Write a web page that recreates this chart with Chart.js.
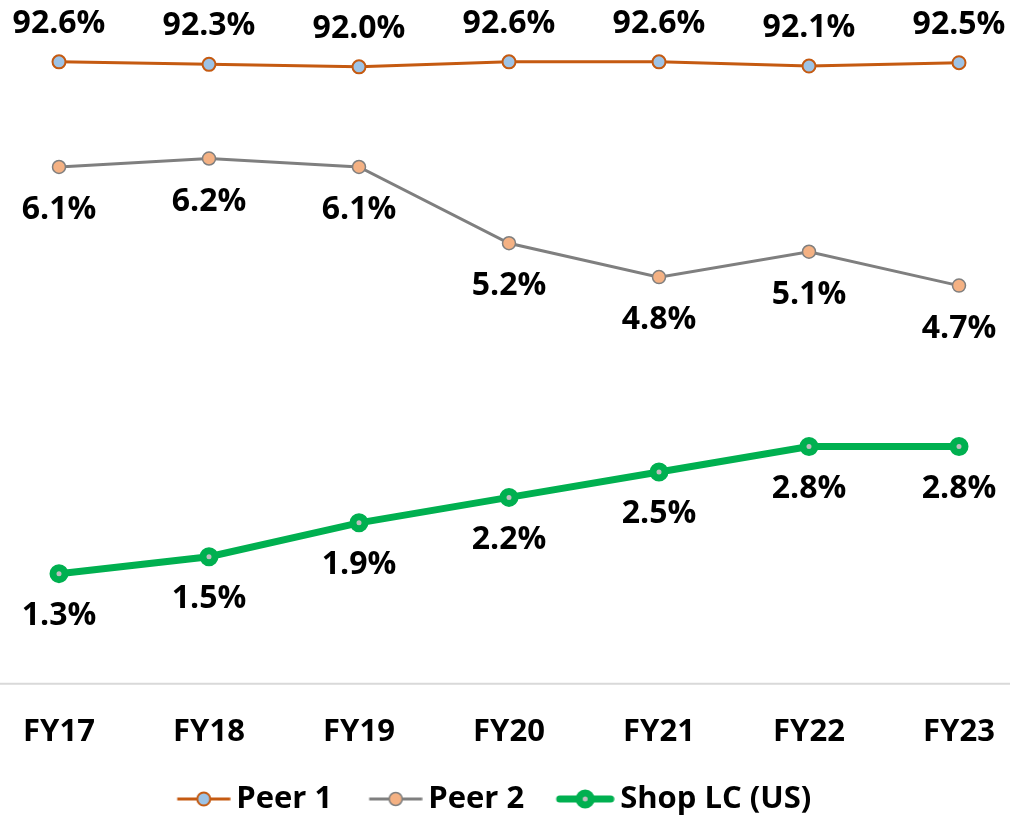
<!DOCTYPE html>
<html>
<head>
<meta charset="utf-8">
<script src="https://cdn.jsdelivr.net/npm/chart.js@4.4.0/dist/chart.umd.min.js"></script>
<style>
  html, body { margin: 0; padding: 0; background: #fff; }
  #wrap { width: 1010px; height: 819px; position: relative; }
</style>
</head>
<body>
<div id="wrap"><canvas id="chart"></canvas></div>
<script>
// 数据
const years = ['FY17', 'FY18', 'FY19', 'FY20', 'FY21', 'FY22', 'FY23'];
const peer1 = [92.6, 92.3, 92.0, 92.6, 92.6, 92.1, 92.5];
const peer2 = [6.1, 6.2, 6.1, 5.2, 4.8, 5.1, 4.7];
const shopLC = [1.3, 1.5, 1.9, 2.2, 2.5, 2.8, 2.8];

const FONT = '"Open Sans", "DejaVu Sans", sans-serif';
Chart.defaults.font.family = FONT;

// 图例图标 (线 + 点), 左侧留白用来拉开图例项间距
function legendIcon(o) {
    const c = document.createElement('canvas');
    c.width = 98;
    c.height = 26;
    const g = c.getContext('2d');
    const capPad = o.cap === 'round' ? o.lineWidth / 2 : 0;
    const right = 97.5 - capPad;
    const left = right - o.len;
    const cy = 13;
    g.strokeStyle = o.line;
    g.lineWidth = o.lineWidth;
    g.lineCap = o.cap || 'butt';
    g.beginPath();
    g.moveTo(left, cy);
    g.lineTo(right, cy);
    g.stroke();
    g.beginPath();
    g.arc((left + right) / 2, cy, o.r, 0, Math.PI * 2);
    g.fillStyle = o.fill;
    g.fill();
    g.lineWidth = o.bw;
    g.strokeStyle = o.border;
    g.stroke();
    return c;
}

// 数据标签
const valueLabels = {
    id: 'valueLabels',
    afterDatasetsDraw(chart) {
        const ctx = chart.ctx;
        ctx.save();
        ctx.font = 'bold 32px ' + FONT;
        ctx.fillStyle = '#000';
        ctx.textAlign = 'center';
        ctx.textBaseline = 'middle';
        chart.data.datasets.forEach((ds, i) => {
            const meta = chart.getDatasetMeta(i);
            meta.data.forEach((pt, j) => {
                ctx.fillText(ds.data[j].toFixed(1) + '%', pt.x, pt.y + ds.labelOffset);
            });
        });
        ctx.restore();
    }
};

// 横轴线 (整宽) + 图例左移
const axisLine = {
    id: 'axisLine',
    afterLayout(chart) {
        const lg = chart.legend;
        if (lg) {
            lg.left -= 32;
            lg.right -= 32;
        }
    },
    beforeDatasetsDraw(chart) {
        const ctx = chart.ctx;
        const y = chart.chartArea.bottom;
        ctx.save();
        ctx.strokeStyle = '#D9D9D9';
        ctx.lineWidth = 2;
        ctx.beginPath();
        ctx.moveTo(0, y);
        ctx.lineTo(chart.width, y);
        ctx.stroke();
        ctx.restore();
    }
};

const datasets = [
    {
        label: 'Peer 1',
        data: peer1,
        yAxisID: 'y2',
        borderColor: '#C55A11',
        borderWidth: 3,
        pointRadius: 6.5,
        pointBackgroundColor: '#9DC3E6',
        pointBorderColor: '#C55A11',
        pointBorderWidth: 2,
        labelOffset: -38,
        icon: legendIcon({ len: 53, line: '#C55A11', lineWidth: 3, r: 6.5, fill: '#9DC3E6', border: '#C55A11', bw: 2 })
    },
    {
        label: 'Peer 2',
        data: peer2,
        yAxisID: 'y',
        borderColor: '#7F7F7F',
        borderWidth: 3,
        pointRadius: 6.5,
        pointBackgroundColor: '#F4B183',
        pointBorderColor: '#7F7F7F',
        pointBorderWidth: 1.5,
        labelOffset: 43,
        icon: legendIcon({ len: 53, line: '#7F7F7F', lineWidth: 3, r: 6.5, fill: '#F4B183', border: '#7F7F7F', bw: 1.5 })
    },
    {
        label: 'Shop LC (US)',
        data: shopLC,
        yAxisID: 'y',
        borderColor: '#00B050',
        borderWidth: 7,
        pointRadius: 6,
        pointBackgroundColor: '#BFBFBF',
        pointBorderColor: '#00B050',
        pointBorderWidth: 7,
        labelOffset: 42,
        icon: legendIcon({ len: 51, line: '#00B050', lineWidth: 7, cap: 'round', r: 6, fill: '#BFBFBF', border: '#00B050', bw: 7 })
    }
];

new Chart(document.getElementById('chart'), {
    type: 'line',
    data: { labels: years, datasets: datasets },
    options: {
        responsive: true,
        maintainAspectRatio: false,
        animation: false,
        layout: { autoPadding: false, padding: { top: 6, left: 59, right: 51, bottom: -5.5 } },
        scales: {
            x: {
                offset: false,
                grid: { display: false, drawTicks: false },
                border: { display: false },
                afterFit(scale) {
                    scale.paddingLeft = 0;
                    scale.paddingRight = 0;
                },
                ticks: {
                    color: '#000',
                    padding: 30,
                    maxRotation: 0,
                    autoSkip: false,
                    font: { size: 31, weight: 'bold' }
                }
            },
            y: { display: false, min: 0, max: 8 },
            y2: { display: false, min: 18, max: 99.3 }
        },
        plugins: {
            tooltip: { enabled: false },
            legend: {
                position: 'bottom',
                labels: {
                    color: '#000',
                    padding: 2.5,
                    usePointStyle: true,
                    pointStyleWidth: 78,
                    font: { size: 31, weight: 'bold' },
                    generateLabels(chart) {
                        return chart.data.datasets.map((ds, i) => ({
                            text: ds.label,
                            pointStyle: ds.icon,
                            fontColor: '#000',
                            lineWidth: 0,
                            datasetIndex: i,
                            hidden: false
                        }));
                    }
                }
            }
        }
    },
    plugins: [axisLine, valueLabels]
});
</script>
</body>
</html>
